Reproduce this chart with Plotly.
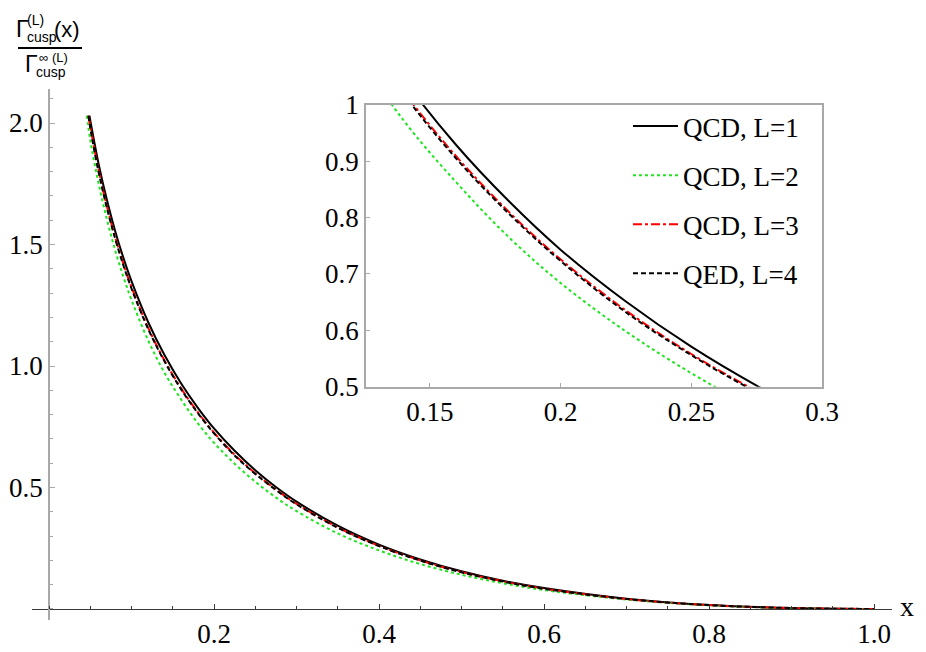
"""Cusp anomalous dimension ratio, main view with a zoomed inset."""

import plotly.graph_objects as go

FIG_W = 926
FIG_H = 652
MARGIN = dict(l=32, r=34, t=89, b=32)
SERIF = "Liberation Serif"
SANS = "Liberation Sans"

# values
x_l1 = [0.049, 0.06, 0.07, 0.08, 0.09, 0.10, 0.12, 0.14, 0.16, 0.18, 0.20, 0.225,
        0.25, 0.275, 0.30, 0.35, 0.40, 0.45, 0.50, 0.55, 0.60, 0.70, 0.80, 0.90, 1.00]
y_l1 = [2.03, 1.834, 1.686, 1.558, 1.447, 1.349, 1.182, 1.045, 0.929, 0.830, 0.743, 0.651,
        0.571, 0.502, 0.442, 0.343, 0.265, 0.204, 0.155, 0.116, 0.086, 0.042, 0.016, 0.004, 0.0]

x_l2 = [0.0458, 0.05, 0.06, 0.07, 0.08, 0.09, 0.10, 0.12, 0.14, 0.16, 0.18, 0.20, 0.225,
        0.25, 0.275, 0.30, 0.35, 0.40, 0.45, 0.50, 0.55, 0.60, 0.70, 0.80, 0.90, 1.00]
y_l2 = [2.03, 1.930, 1.753, 1.606, 1.479, 1.369, 1.272, 1.107, 0.972, 0.863, 0.766, 0.684,
        0.598, 0.524, 0.459, 0.403, 0.311, 0.241, 0.185, 0.141, 0.106, 0.078, 0.039, 0.015,
        0.003, 0.0]

x_l3 = [0.048, 0.05, 0.06, 0.07, 0.08, 0.09, 0.10, 0.12, 0.14, 0.16, 0.18, 0.20, 0.225,
        0.25, 0.275, 0.30, 0.35, 0.40, 0.45, 0.50, 0.55, 0.60, 0.70, 0.80, 0.90, 1.00]
y_l3 = [2.03, 1.987, 1.808, 1.660, 1.533, 1.422, 1.325, 1.159, 1.023, 0.909, 0.811, 0.726,
        0.635, 0.558, 0.492, 0.433, 0.336, 0.260, 0.200, 0.152, 0.114, 0.084, 0.041, 0.016,
        0.004, 0.0]

x_l4 = [0.0478, 0.05, 0.06, 0.07, 0.08, 0.09, 0.10, 0.12, 0.14, 0.16, 0.18, 0.20, 0.225,
        0.25, 0.275, 0.30, 0.35, 0.40, 0.45, 0.50, 0.55, 0.60, 0.70, 0.80, 0.90, 1.00]
y_l4 = [2.03, 1.980, 1.800, 1.653, 1.526, 1.416, 1.319, 1.154, 1.019, 0.905, 0.808, 0.723,
        0.632, 0.556, 0.490, 0.431, 0.334, 0.259, 0.199, 0.151, 0.113, 0.083, 0.041, 0.016,
        0.004, 0.0]

series_names = ["QCD, L=1", "QCD, L=2", "QCD, L=3", "QED, L=4"]
series_x = [x_l1, x_l2, x_l3, x_l4]
series_y = [y_l1, y_l2, y_l3, y_l4]
series_color = ["#000000", "#1ee61e", "#ff0000", "#000000"]
series_dash = ["solid", "dot", "dashdot", "5px,3px"]

main_xticks = [0.2, 0.4, 0.6, 0.8, 1.0]
main_xtext = ["0.2", "0.4", "0.6", "0.8", "1.0"]
main_yticks = [0.5, 1.0, 1.5, 2.0]
main_ytext = ["0.5", "1.0", "1.5", "2.0"]
inset_xticks = [0.15, 0.2, 0.25, 0.3]
inset_xtext = ["0.15", "0.2", "0.25", "0.3"]
inset_yticks = [0.5, 0.6, 0.7, 0.8, 0.9, 1.0]
inset_ytext = ["0.5", "0.6", "0.7", "0.8", "0.9", "1"]

PLOT_W = FIG_W - MARGIN["l"] - MARGIN["r"]
PLOT_H = FIG_H - MARGIN["t"] - MARGIN["b"]
TICK_SIZE = 27


def paper(px, py):
    """Pixel position on the page -> paper coordinates."""
    return (px - MARGIN["l"]) / PLOT_W, (FIG_H - MARGIN["b"] - py) / PLOT_H


fig = go.Figure()

for i in range(4):
    line = dict(color=series_color[i], width=2, dash=series_dash[i], shape="spline", smoothing=1)
    fig.add_trace(go.Scatter(x=series_x[i], y=series_y[i], mode="lines", line=line,
                             showlegend=False, xaxis="x", yaxis="y", hoverinfo="skip"))
for i in range(4):
    line = dict(color=series_color[i], width=2, dash=series_dash[i], shape="spline", smoothing=1)
    fig.add_trace(go.Scatter(x=series_x[i], y=series_y[i], mode="lines", line=line,
                             name=series_names[i], legendgroup=str(i),
                             xaxis="x2", yaxis="y2", hoverinfo="skip"))

x0_pos = paper(49, 609)

fig.update_layout(
    width=FIG_W,
    height=FIG_H,
    margin=MARGIN,
    template="none",
    paper_bgcolor="white",
    plot_bgcolor="rgba(0,0,0,0)",
    font=dict(family=SERIF, size=TICK_SIZE, color="black"),
    xaxis=dict(
        domain=[0, 1], range=[-0.0206, 1.0218], anchor="free", position=x0_pos[1],
        showgrid=False, zeroline=False, showline=True, linecolor="#3a3a3a", linewidth=1.2,
        tickmode="array", tickvals=main_xticks, ticktext=main_xtext,
        ticks="inside", ticklen=5, tickcolor="#3a3a3a", tickwidth=1,
        tickfont=dict(family=SERIF, size=TICK_SIZE, color="black"), automargin=False,
        minor=dict(tickmode="linear", tick0=0, dtick=0.05, ticks="inside", ticklen=3,
                   tickcolor="#3a3a3a", showgrid=False),
    ),
    yaxis=dict(
        domain=[0, 1], range=[-0.0453, 2.14], anchor="free", position=x0_pos[0],
        showgrid=False, zeroline=False, showline=True, linecolor="#a8a8a8", linewidth=1.5,
        tickmode="array", tickvals=main_yticks, ticktext=main_ytext,
        ticks="inside", ticklen=5, tickcolor="#a8a8a8", tickwidth=1,
        tickfont=dict(family=SERIF, size=TICK_SIZE, color="black"), automargin=False,
        minor=dict(tickmode="linear", tick0=0, dtick=0.1, ticks="inside", ticklen=3,
                   tickcolor="#a8a8a8", showgrid=False),
    ),
    xaxis2=dict(
        domain=[paper(366, 0)[0], paper(822, 0)[0]], range=[0.1256, 0.3], anchor="y2",
        showgrid=False, zeroline=False, showline=True, mirror=True,
        linecolor="#a8a8a8", linewidth=1.5,
        tickmode="array", tickvals=inset_xticks, ticktext=inset_xtext,
        ticks="inside", ticklen=4, tickcolor="#a8a8a8",
        tickfont=dict(family=SERIF, size=TICK_SIZE, color="black"), automargin=False,
    ),
    yaxis2=dict(
        domain=[paper(0, 386.7)[1], paper(0, 104.7)[1]], range=[0.5, 1.0], anchor="x2",
        showgrid=False, zeroline=False, showline=True, mirror=True,
        linecolor="#a8a8a8", linewidth=1.5,
        tickmode="array", tickvals=inset_yticks, ticktext=inset_ytext,
        ticks="inside", ticklen=4, tickcolor="#a8a8a8",
        tickfont=dict(family=SERIF, size=TICK_SIZE, color="black"), automargin=False,
    ),
    legend=dict(
        x=paper(628, 0)[0], y=paper(0, 102)[1], xanchor="left", yanchor="top",
        bgcolor="rgba(0,0,0,0)", borderwidth=0,
        font=dict(family=SERIF, size=TICK_SIZE), tracegroupgap=11, itemwidth=45,
    ),
)

# axis label "x" at the end of the horizontal axis
ax, ay = paper(907, 606)
fig.add_annotation(x=ax, y=ay, xref="paper", yref="paper", text="x", showarrow=False,
                   font=dict(family=SERIF, size=28), xanchor="center", yanchor="middle")

# vertical axis label written as a stacked fraction
label_parts = [
    ("Γ", 22, 29, 23),
    ("(L)", 35, 20, 14),
    ("cusp", 42, 37, 14),
    ("(x)", 67, 30, 22),
    ("Γ", 31, 64, 23),
    ("∞ (L)", 53, 57, 13),
    ("cusp", 51, 72, 14),
]
for text, px, py, size in label_parts:
    lx, ly = paper(px, py)
    fig.add_annotation(x=lx, y=ly, xref="paper", yref="paper", text=text, showarrow=False,
                       font=dict(family=SANS, size=size), xanchor="center", yanchor="middle")
bx0, by = paper(18, 48)
bx1, _ = paper(82, 48)
fig.add_shape(type="line", xref="paper", yref="paper", x0=bx0, x1=bx1, y0=by, y1=by,
              line=dict(color="black", width=2))

# drop the browser's default body margin so the figure sits at the page corner
fig.write_html("out.html", config={"displayModeBar": False},
               post_script="document.body.style.margin = '0';")
